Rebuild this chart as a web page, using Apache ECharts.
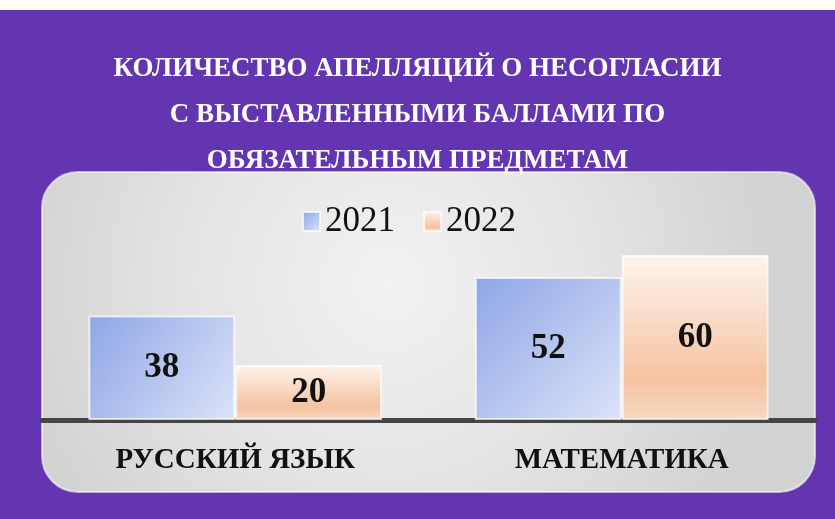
<!DOCTYPE html>
<html>
<head>
<meta charset="utf-8">
<script src="https://cdn.jsdelivr.net/npm/echarts@6/dist/echarts.min.js"></script>
<style>
  html, body { margin: 0; padding: 0; background: #fff; }
  #chart { width: 835px; height: 519px; }
</style>
</head>
<body>
<div id="chart"></div>
<script>
const titleLines = [
  'КОЛИЧЕСТВО АПЕЛЛЯЦИЙ О НЕСОГЛАСИИ',
  'С ВЫСТАВЛЕННЫМИ БАЛЛАМИ ПО',
  'ОБЯЗАТЕЛЬНЫМ ПРЕДМЕТАМ'
];
const subjects = ['РУССКИЙ ЯЗЫК', 'МАТЕМАТИКА'];
const years = ['2021', '2022'];
const values2021 = [38, 52];
const values2022 = [20, 60];

const serif = '"Liberation Serif", "DejaVu Serif", serif';

const chart = echarts.init(document.getElementById('chart'));

const blueFill = new echarts.graphic.LinearGradient(0, 0, 1, 1, [
  { offset: 0, color: '#8ea6e6' },
  { offset: 1, color: '#dce3f8' }
]);
const orangeFill = new echarts.graphic.LinearGradient(0, 0, 0, 1, [
  { offset: 0, color: '#fef4ee' },
  { offset: 0.75, color: '#f5c3a0' },
  { offset: 1, color: '#f9d8c2' }
]);

chart.setOption({
  backgroundColor: '#fff',
  animation: false,
  title: {
    text: titleLines.join('\n'),
    left: 'center',
    top: 41,
    textStyle: {
      color: '#ffffff',
      fontFamily: serif,
      fontWeight: 'bold',
      fontSize: 27,
      lineHeight: 46
    }
  },
  graphic: [
    {
      type: 'rect',
      z: -2,
      shape: { x: 0, y: 10, width: 835, height: 509 },
      style: { fill: '#6335b1' }
    },
    {
      type: 'rect',
      z: -1,
      shape: { x: 42, y: 172, width: 773, height: 320, r: 36 },
      style: {
        fill: new echarts.graphic.RadialGradient(0.45, 0.35, 1.2, [
          { offset: 0, color: '#f2f2f2' },
          { offset: 0.5, color: '#e5e5e5' },
          { offset: 1, color: '#d2d2d2' }
        ]),
        stroke: 'rgba(255,255,255,0.6)',
        lineWidth: 2
      }
    }
  ],
  legend: {
    data: years,
    icon: 'rect',
    left: 297,
    top: 199,
    itemWidth: 17,
    itemHeight: 19,
    itemGap: 28,
    textStyle: {
      color: '#111',
      fontFamily: serif,
      fontSize: 35
    }
  },
  grid: { left: 42, right: 20, top: 200, bottom: 99 },
  xAxis: {
    type: 'category',
    data: subjects,
    axisTick: { show: false },
    axisLine: { lineStyle: { color: '#454545', width: 5 } },
    axisLabel: {
      margin: 26,
      color: '#111',
      fontFamily: serif,
      fontWeight: 'bold',
      fontSize: 29
    }
  },
  yAxis: {
    type: 'value',
    min: 0,
    max: 80,
    show: false,
    splitLine: { show: false }
  },
  series: [
    {
      name: years[0],
      type: 'bar',
      data: values2021,
      barGap: '0%',
      barCategoryGap: '24%',
      itemStyle: { color: blueFill, borderColor: 'rgba(255,255,255,0.7)', borderWidth: 2 },
      label: {
        show: true,
        position: 'inside',
        color: '#111',
        fontFamily: serif,
        fontWeight: 'bold',
        fontSize: 35
      }
    },
    {
      name: years[1],
      type: 'bar',
      data: values2022,
      itemStyle: { color: orangeFill, borderColor: 'rgba(255,255,255,0.7)', borderWidth: 2 },
      label: {
        show: true,
        position: 'inside',
        color: '#111',
        fontFamily: serif,
        fontWeight: 'bold',
        fontSize: 35
      }
    }
  ]
});

window.addEventListener('resize', function () {
  chart.resize();
});
</script>
</body>
</html>
